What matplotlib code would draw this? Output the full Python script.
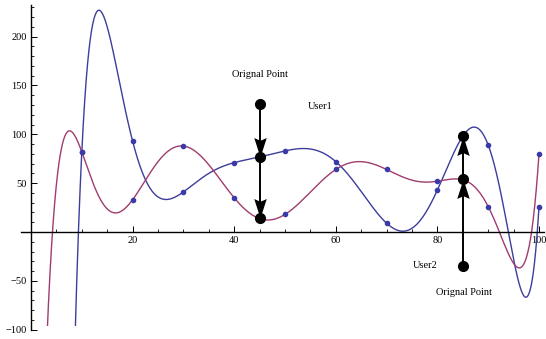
import numpy as np
import matplotlib
matplotlib.use("Agg")
import matplotlib.pyplot as plt
from matplotlib.patches import Rectangle
from matplotlib.path import Path

# data
x_pts = [10, 20, 30, 40, 50, 60, 70, 80, 90, 100]
blue_pts = [82, 93, 41, 71, 83, 72, 9, 43, 89, 26]
red_pts = [82, 33, 88, 35, 18, 64, 64, 52, 26, 80]

user1_x = 45
user1_vals = [131, 77, 14]
user2_x = 85
user2_vals = [-35, 54, 98]

x_ticks = [20, 40, 60, 80, 100]
y_ticks = [-100, -50, 50, 100, 150, 200]

BLUE = "#3d3d9c"
RED = "#a03c6e"
DOT = "#3a3aa8"

plt.rcParams['font.family'] = ['Liberation Serif', 'DejaVu Serif']

fig = plt.figure(figsize=(5.46, 3.39), dpi=100)
ax = fig.add_axes([0, 0, 1, 1])
ax.set_xlim(-31 / 5.08, (546 - 31) / 5.08)
ax.set_ylim(-(339 - 232) / 0.977, 232 / 0.977)
ax.patch.set_alpha(0)

xs = np.linspace(0, 100, 2000)
clip = Rectangle((-10, -96), 130, 340, transform=ax.transData)
for pts, col in [(blue_pts, BLUE), (red_pts, RED)]:
    p = np.polynomial.Polynomial.fit(x_pts, pts, len(x_pts) - 1)
    ln, = ax.plot(xs, p(xs), color=col, lw=1.0, zorder=2)
    ln.set_clip_path(clip)
ax.plot(x_pts, blue_pts, 'o', color=DOT, ms=3.0, zorder=3)
ax.plot(x_pts, red_pts, 'o', color=DOT, ms=3.0, zorder=3)

# notched arrowhead markers (tip at the origin)
def head(direction):
    s = 1 if direction == 'down' else -1
    verts = [(0, 0), (-0.32, s * 1.0), (0, s * 0.86), (0.32, s * 1.0), (0, 0)]
    codes = [Path.MOVETO, Path.LINETO, Path.LINETO, Path.LINETO, Path.CLOSEPOLY]
    return Path(verts, codes)

for ux, vals in [(user1_x, user1_vals), (user2_x, user2_vals)]:
    ax.plot([ux] * len(vals), vals, color='black', lw=1.4, zorder=4)
    for a, b in zip(vals[:-1], vals[1:]):
        d = 'down' if b < a else 'up'
        ax.plot([ux], [b], marker=head(d), color='black', ms=28,
                markeredgewidth=0, zorder=4)
    ax.plot([ux] * len(vals), vals, 'o', color='black', ms=7.0, zorder=5)

ax.text(45.1, 160.7, "Orignal Point", fontsize=7.5, ha='center', va='center')
ax.text(56.9, 128, "User1", fontsize=7.5, ha='center', va='center')
ax.text(77.6, -34.8, "User2", fontsize=7.5, ha='center', va='center')
ax.text(85.3, -62.4, "Orignal Point", fontsize=7.5, ha='center', va='center')

# axes in Mathematica style
for s in ['top', 'right']:
    ax.spines[s].set_visible(False)
ax.spines['left'].set_position(('data', 0))
ax.spines['bottom'].set_position(('data', 0))
ax.spines['left'].set_bounds(-100, 232)
ax.spines['bottom'].set_bounds(-2, 101)
for s in ['left', 'bottom']:
    ax.spines[s].set_linewidth(1.0)

ax.set_xticks(x_ticks)
ax.set_xticks([v for v in range(5, 101, 5) if v not in x_ticks], minor=True)
ax.set_yticks(y_ticks)
ax.set_yticks([v for v in range(-100, 231, 10) if v not in y_ticks and v != 0], minor=True)
ax.set_xticklabels([str(v) for v in x_ticks])
ax.set_yticklabels([str(v).replace('-', '\u2212') for v in y_ticks])
ax.tick_params(which='major', direction='in', length=4.5, width=0.7, labelsize=7.5, pad=3)
ax.tick_params(which='minor', direction='in', length=2.5, width=0.6)

fig.savefig("out.png", dpi=100)
